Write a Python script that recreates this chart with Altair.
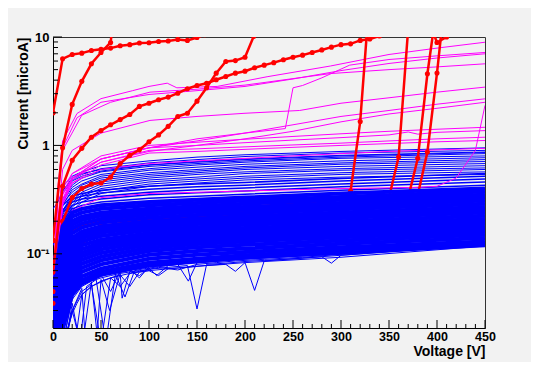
import altair as alt
import pandas as pd

W, H = 432, 291
BG = "#f2f2f2"
FONT = "Liberation Sans"

# ---------------- data ----------------
V_GRID = [0, 5, 10, 20, 30, 50, 100, 150, 200, 300, 450]

# dense blue core (thick)
BLUE_CORE = [
    [0.03, 0.09, 0.18, 0.24, 0.26, 0.28, 0.3, 0.315, 0.33, 0.36, 0.4],
    [0.05, 0.08, 0.165, 0.22, 0.24, 0.26, 0.28, 0.295, 0.31, 0.335, 0.375],
    [0.025, 0.07, 0.15, 0.2, 0.22, 0.24, 0.26, 0.275, 0.29, 0.315, 0.35],
    [0.04, 0.065, 0.135, 0.185, 0.205, 0.225, 0.245, 0.26, 0.27, 0.295, 0.33],
    [0.02, 0.06, 0.12, 0.17, 0.19, 0.21, 0.23, 0.245, 0.255, 0.275, 0.31],
    [0.03, 0.055, 0.11, 0.155, 0.175, 0.195, 0.215, 0.228, 0.238, 0.258, 0.29],
    [0.015, 0.05, 0.1, 0.14, 0.16, 0.18, 0.2, 0.212, 0.222, 0.24, 0.27],
    [0.025, 0.045, 0.09, 0.13, 0.15, 0.168, 0.188, 0.2, 0.21, 0.227, 0.255],
    [0.012, 0.04, 0.08, 0.12, 0.14, 0.157, 0.177, 0.188, 0.197, 0.214, 0.24],
    [0.02, 0.035, 0.072, 0.11, 0.13, 0.146, 0.166, 0.176, 0.185, 0.2, 0.225],
    [0.01, 0.03, 0.065, 0.1, 0.12, 0.135, 0.155, 0.165, 0.173, 0.187, 0.21],
    [0.015, 0.028, 0.058, 0.092, 0.11, 0.126, 0.146, 0.156, 0.164, 0.178, 0.2],
    [0.008, 0.025, 0.052, 0.085, 0.102, 0.118, 0.138, 0.147, 0.155, 0.169, 0.19],
    [0.012, 0.022, 0.046, 0.078, 0.095, 0.11, 0.13, 0.139, 0.147, 0.16, 0.18],
    [0.006, 0.019, 0.04, 0.071, 0.088, 0.102, 0.122, 0.131, 0.138, 0.151, 0.17],
    [0.009, 0.017, 0.035, 0.065, 0.081, 0.094, 0.114, 0.123, 0.13, 0.142, 0.16],
    [0.005, 0.014, 0.031, 0.059, 0.074, 0.087, 0.106, 0.115, 0.121, 0.133, 0.15],
    [0.007, 0.012, 0.028, 0.054, 0.068, 0.08, 0.098, 0.106, 0.112, 0.124, 0.14],
    [0.004, 0.01, 0.025, 0.049, 0.062, 0.073, 0.09, 0.098, 0.104, 0.115, 0.13],
    [0.004, 0.009, 0.022, 0.045, 0.057, 0.068, 0.083, 0.09, 0.097, 0.108, 0.125],
    [0.003, 0.008, 0.02, 0.042, 0.053, 0.064, 0.078, 0.085, 0.092, 0.103, 0.12],
]

# upper part of the core (medium)
BLUE_MID = [
    [0.12, 0.15, 0.28, 0.34, 0.36, 0.385, 0.42, 0.44, 0.455, 0.495, 0.55],
    [0.06, 0.13, 0.25, 0.32, 0.34, 0.365, 0.395, 0.415, 0.43, 0.47, 0.52],
    [0.09, 0.12, 0.24, 0.3, 0.32, 0.34, 0.37, 0.39, 0.405, 0.44, 0.49],
    [0.04, 0.11, 0.22, 0.28, 0.3, 0.32, 0.35, 0.365, 0.38, 0.415, 0.46],
    [0.07, 0.1, 0.2, 0.26, 0.28, 0.3, 0.325, 0.34, 0.355, 0.385, 0.43],
]

# sparse upper blue curves (thin)
BLUE_TOP = [
    [0.03, 0.15, 0.42, 0.52, 0.57, 0.65, 0.72, 0.78, 0.82, 0.88, 0.95],
    [0.025, 0.12, 0.38, 0.48, 0.54, 0.61, 0.69, 0.74, 0.79, 0.85, 0.9],
    [0.03, 0.14, 0.36, 0.47, 0.52, 0.58, 0.66, 0.71, 0.75, 0.81, 0.87],
    [0.02, 0.1, 0.32, 0.43, 0.5, 0.57, 0.64, 0.68, 0.72, 0.78, 0.84],
    [0.025, 0.11, 0.3, 0.41, 0.47, 0.54, 0.61, 0.66, 0.7, 0.76, 0.8],
    [0.02, 0.09, 0.28, 0.39, 0.44, 0.52, 0.59, 0.63, 0.67, 0.72, 0.77],
    [0.03, 0.13, 0.29, 0.37, 0.43, 0.5, 0.56, 0.6, 0.64, 0.69, 0.74],
    [0.02, 0.08, 0.25, 0.35, 0.41, 0.48, 0.54, 0.58, 0.62, 0.67, 0.71],
    [0.025, 0.1, 0.25, 0.33, 0.39, 0.46, 0.52, 0.56, 0.6, 0.64, 0.68],
    [0.02, 0.09, 0.23, 0.31, 0.37, 0.44, 0.5, 0.54, 0.57, 0.61, 0.65],
    [0.02, 0.08, 0.21, 0.3, 0.35, 0.42, 0.48, 0.51, 0.55, 0.59, 0.62],
    [0.015, 0.07, 0.2, 0.28, 0.34, 0.4, 0.46, 0.49, 0.52, 0.56, 0.6],
    [0.02, 0.08, 0.19, 0.27, 0.32, 0.38, 0.44, 0.47, 0.5, 0.54, 0.57],
    [0.015, 0.07, 0.18, 0.25, 0.3, 0.36, 0.42, 0.45, 0.48, 0.51, 0.54],
    [0.26, 0.3, 0.38, 0.5, 0.55, 0.6, 0.66, 0.7, 0.74, 0.8, 0.86],
]

# lower blue curves with dips (thin)
BLUE_LOW = [
    ([0, 10, 20, 30, 40, 50, 60, 70, 80, 90, 100, 120, 140, 150, 160, 180, 200, 220, 250, 280, 290, 300, 350, 400, 450],
     [0.004, 0.015, 0.038, 0.05, 0.056, 0.06, 0.063, 0.066, 0.068, 0.07, 0.072, 0.075, 0.078, 0.031, 0.08, 0.082, 0.085, 0.087, 0.09, 0.094, 0.082, 0.097, 0.104, 0.112, 0.12]),
    ([0, 10, 20, 30, 40, 50, 60, 70, 80, 90, 100, 110, 120, 140, 160, 180, 190, 200, 210, 220, 250, 300, 350, 400, 450],
     [0.003, 0.012, 0.03, 0.045, 0.052, 0.015, 0.06, 0.064, 0.05, 0.068, 0.07, 0.063, 0.073, 0.075, 0.078, 0.08, 0.069, 0.083, 0.046, 0.086, 0.09, 0.097, 0.105, 0.113, 0.122]),
    ([0, 10, 20, 28, 35, 45, 55, 65, 75, 85, 95, 110, 130, 141, 150, 170, 200, 250, 300, 350, 400, 450],
     [0.003, 0.01, 0.035, 0.015, 0.05, 0.058, 0.015, 0.065, 0.04, 0.07, 0.073, 0.076, 0.08, 0.056, 0.083, 0.086, 0.09, 0.096, 0.102, 0.11, 0.118, 0.126]),
    ([0, 10, 20, 30, 33, 40, 46, 50, 59, 70, 72, 80, 90, 100, 108, 120, 150, 200, 250, 300, 350, 400, 450],
     [0.003, 0.011, 0.03, 0.048, 0.02, 0.055, 0.018, 0.058, 0.03, 0.066, 0.039, 0.069, 0.063, 0.074, 0.063, 0.078, 0.084, 0.09, 0.095, 0.1, 0.108, 0.116, 0.124]),
    ([0, 10, 20, 30, 40, 50, 60, 70, 80, 90, 100, 120, 140, 160, 180, 200, 230, 260, 300, 350, 400, 450],
     [0.003, 0.014, 0.04, 0.055, 0.06, 0.064, 0.045, 0.07, 0.072, 0.06, 0.076, 0.079, 0.082, 0.084, 0.087, 0.09, 0.093, 0.096, 0.1, 0.107, 0.115, 0.123]),
    ([0, 10, 15, 20, 25, 30, 40, 50, 60, 70, 80, 90, 100, 110, 130, 150, 170, 190, 220, 260, 300, 350, 400, 450],
     [0.002, 0.008, 0.02, 0.03, 0.02, 0.042, 0.05, 0.055, 0.06, 0.05, 0.066, 0.069, 0.072, 0.075, 0.071, 0.08, 0.083, 0.086, 0.089, 0.093, 0.099, 0.106, 0.114, 0.122]),
    ([0, 10, 20, 30, 40, 50, 60, 70, 80, 90, 100, 120, 150, 200, 250, 300, 350, 400, 450],
     [0.004, 0.018, 0.045, 0.058, 0.064, 0.068, 0.071, 0.073, 0.075, 0.077, 0.079, 0.082, 0.086, 0.092, 0.097, 0.102, 0.109, 0.117, 0.125]),
    ([0, 5, 10, 15, 20, 25, 30, 40, 50, 60, 80, 100, 150, 200, 300, 450],
     [0.002, 0.006, 0.012, 0.02, 0.028, 0.035, 0.042, 0.05, 0.056, 0.06, 0.066, 0.07, 0.077, 0.083, 0.093, 0.118]),
]

M_GRID = [0, 10, 20, 50, 100, 150, 200, 250, 300, 350, 400, 450]
MAGENTA = [
    ([0, 5, 10, 25, 50, 83, 100, 119, 129, 171, 223, 289, 350, 400, 450],
     [0.05, 0.4, 1.1, 1.97, 2.7, 3.2, 3.5, 3.75, 3.4, 3.5, 4.3, 5.4, 6.9, 7.9, 8.95]),
    ([0, 5, 10, 25, 50, 100, 150, 200, 250, 300, 350, 400, 450],
     [0.05, 0.35, 0.95, 1.8, 2.5, 2.95, 3.2, 3.5, 4.1, 4.9, 5.7, 6.4, 7.0]),
    ([0, 5, 10, 30, 60, 101, 150, 200, 289, 350, 400, 450],
     [0.04, 0.3, 0.9, 1.9, 2.5, 3.1, 3.3, 3.6, 4.6, 5.0, 5.3, 5.66]),
    ([0, 10, 20, 50, 100, 150, 200, 242, 250, 260, 280, 309, 350, 400, 450],
     [0.03, 0.3, 0.5, 0.75, 0.95, 1.15, 1.3, 1.43, 3.4, 3.57, 4.2, 5.5, 6.2, 6.7, 7.2]),
    ([0, 5, 10, 20, 50, 101, 150, 200, 257, 300, 350, 400, 450],
     [0.03, 0.2, 0.6, 0.9, 1.3, 1.7, 1.85, 1.98, 2.1, 2.45, 2.75, 3.1, 3.45]),
    (M_GRID, [0.03, 0.4, 0.55, 0.75, 0.95, 1.1, 1.3, 1.55, 1.85, 2.1, 2.4, 2.69]),
    (M_GRID, [0.03, 0.35, 0.5, 0.7, 0.88, 1.0, 1.15, 1.35, 1.65, 1.95, 2.2, 2.5]),
    (M_GRID, [0.02, 0.35, 0.55, 0.8, 1.0, 1.07, 1.14, 1.21, 1.28, 1.35, 1.41, 1.47]),
    ([0, 10, 20, 50, 100, 150, 200, 250, 300, 350, 370, 380, 400, 450],
     [0.02, 0.32, 0.5, 0.75, 0.95, 1.0, 1.06, 1.12, 1.18, 1.25, 1.33, 1.27, 1.32, 1.37]),
    (M_GRID, [0.02, 0.3, 0.48, 0.7, 0.9, 0.93, 0.97, 1.01, 1.05, 1.1, 1.15, 1.19]),
    (M_GRID, [0.02, 0.28, 0.45, 0.66, 0.85, 0.88, 0.92, 0.96, 1.0, 1.04, 1.08, 1.11]),
    ([0, 10, 20, 50, 100, 200, 300, 380, 400, 420, 440, 450],
     [0.02, 0.15, 0.25, 0.33, 0.36, 0.38, 0.4, 0.41, 0.42, 0.5, 0.9, 2.34]),
    (M_GRID, [0.02, 0.3, 0.45, 0.6, 0.68, 0.72, 0.76, 0.8, 0.84, 0.88, 0.91, 0.94]),
]

RED = [
    ([0, 10, 20, 30, 40, 50, 60, 70, 80, 90, 100, 110, 120, 130, 140, 150, 158],
     [2.0, 6.3, 6.9, 7.1, 7.5, 7.7, 7.9, 8.3, 8.5, 8.8, 8.85, 9.1, 9.2, 9.5, 9.3, 9.9, 10.5]),
    ([0, 10, 20, 30, 40, 50, 60, 61],
     [0.133, 0.95, 2.39, 3.9, 5.66, 7.2, 8.9, 10.5]),
    ([0, 10, 20, 30, 40, 50, 60, 70, 80, 90, 100, 110, 120, 130, 140, 150, 160, 170, 180,
      190, 200, 210, 220, 230, 240, 250, 260, 270, 280, 290, 300, 310, 320, 330, 340],
     [0.068, 0.42, 0.73, 0.94, 1.19, 1.37, 1.55, 1.73, 1.93, 2.29, 2.45, 2.64, 2.79, 3.03, 3.33, 3.57, 3.75, 4.03, 4.32,
      4.64, 4.84, 5.2, 5.5, 5.8, 6.16, 6.5, 6.8, 7.2, 7.6, 8.06, 8.5, 8.65, 9.3, 9.6, 10.2]),
    ([0, 10, 20, 30, 40, 50, 60, 70, 80, 90, 100, 110, 120, 130, 140, 150, 160, 170, 180, 190, 200, 209],
     [0.045, 0.2, 0.33, 0.4, 0.44, 0.45, 0.51, 0.68, 0.81, 0.91, 1.08, 1.25, 1.5, 1.85, 1.98, 2.56, 3.4, 4.64, 5.95, 6.06, 6.5, 10.1]),
    ([0, 10, 20, 30, 50, 100, 150, 200, 250, 300, 310, 320, 330],
     [0.035, 0.11, 0.16, 0.18, 0.2, 0.23, 0.25, 0.27, 0.29, 0.32, 0.38, 1.66, 25]),
    ([0, 10, 20, 50, 100, 200, 300, 350, 360, 370],
     [0.01, 0.08, 0.13, 0.18, 0.21, 0.25, 0.29, 0.33, 0.78, 12]),
    ([0, 10, 20, 50, 100, 200, 300, 370, 380, 390, 396, 400, 410],
     [0.01, 0.07, 0.12, 0.17, 0.2, 0.24, 0.28, 0.33, 0.76, 4.58, 11, 8.9, 10]),
    ([0, 10, 20, 50, 100, 200, 300, 380, 390, 400, 405],
     [0.01, 0.06, 0.11, 0.16, 0.19, 0.23, 0.27, 0.35, 0.87, 4.65, 12]),
]

X_MAJOR = [0, 50, 100, 150, 200, 250, 300, 350, 400, 450]
X_MINOR = [v for v in range(10, 450, 10) if v % 50 != 0]
Y_MAJOR = [0.1, 1, 10]
Y_MINOR = [0.03, 0.04, 0.05, 0.06, 0.07, 0.08, 0.09,
           0.2, 0.3, 0.4, 0.5, 0.6, 0.7, 0.8, 0.9,
           2, 3, 4, 5, 6, 7, 8, 9]

# ---------------- build tables ----------------
rows = []
def add(group, lid, vs, cs):
    for v, c in zip(vs, cs):
        rows.append({"grp": group, "lid": f"{group}{lid}", "V": v, "I": c})

for i, c in enumerate(BLUE_CORE):
    add("core", i, V_GRID, c)
for i, c in enumerate(BLUE_MID):
    add("mid", i, V_GRID, c)
for i, c in enumerate(BLUE_TOP):
    add("top", i, V_GRID, c)
for i, (vs, cs) in enumerate(BLUE_LOW):
    add("low", i, vs, cs)
for i, (vs, cs) in enumerate(MAGENTA):
    add("mag", i, vs, cs)
for i, (vs, cs) in enumerate(RED):
    add("red", i, vs, cs)
df = pd.DataFrame(rows)

xs = alt.Scale(domain=[0, 450], nice=False, zero=False)
ys = alt.Scale(type="log", domain=[0.0207, 10], nice=False)

xaxis = alt.Axis(
    title="Voltage [V]", values=X_MAJOR, tickSize=0, grid=False,
    domainColor="#000000", labelFont=FONT, labelFontWeight="bold", labelFontSize=12.5,
    labelColor="#000000", labelPadding=2, labelFlush=False, labelOverlap=False,
    titleFont=FONT, titleFontWeight="bold", titleFontSize=14, titleColor="#000000",
    titleAlign="right", titleX=W, titleY=27, titleBaseline="alphabetic",
)
yaxis = alt.Axis(
    title="Current [microA]", values=Y_MAJOR, tickSize=0, grid=False,
    domainColor="#000000", labelFont=FONT, labelFontWeight="bold", labelFontSize=13,
    labelColor="#000000", labelPadding=4, labelFlush=False, labelOverlap=False,
    labelExpr="datum.value < 0.5 ? '10⁻¹' : (datum.value > 5 ? '10' : '1')",
    titleFont=FONT, titleFontWeight="bold", titleFontSize=14, titleColor="#000000",
    titleAngle=270, titleAlign="right", titleX=-26, titleY=0, titleBaseline="alphabetic",
)

X = alt.X("V:Q", scale=xs, axis=xaxis)
Y = alt.Y("I:Q", scale=ys, axis=yaxis)

base = alt.Chart(df)

def lines(group, color, width):
    return base.transform_filter(alt.datum.grp == group).mark_line(
        color=color, strokeWidth=width, clip=True
    ).encode(x=X, y=Y, detail="lid:N")

red_lines = lines("red", "#ff0000", 2.5)
red_pts = base.transform_filter(alt.datum.grp == "red").mark_circle(
    color="#ff0000", size=26, opacity=1, clip=True
).encode(x=X, y=Y)
red_start = base.transform_filter(
    (alt.datum.grp == "red") & (alt.datum.V == 0)
).mark_circle(color="#ff0000", size=26, opacity=1, clip=True).encode(x=X, y=Y)
core = lines("core", "#0000ff", 4)
mid = lines("mid", "#0000ff", 1.5)
top = lines("top", "#0000ff", 1)
low = lines("low", "#0000ff", 1)
mag = lines("mag", "#ff00ff", 1)

xt = pd.DataFrame({"V": X_MAJOR + X_MINOR,
                   "len": [8] * len(X_MAJOR) + [4] * len(X_MINOR)})
yt = pd.DataFrame({"I": Y_MAJOR + Y_MINOR,
                   "len": [9] * len(Y_MAJOR) + [5] * len(Y_MINOR)})

xticks_major = alt.Chart(xt[xt.len == 8]).mark_rule(color="#000000", strokeWidth=1).encode(
    x=X, y=alt.value(H), y2=alt.value(H - 8))
xticks_minor = alt.Chart(xt[xt.len == 4]).mark_rule(color="#000000", strokeWidth=1).encode(
    x=X, y=alt.value(H), y2=alt.value(H - 4))
yticks_major = alt.Chart(yt[yt.len == 9]).mark_rule(color="#000000", strokeWidth=1).encode(
    y=Y, x=alt.value(0), x2=alt.value(9))
yticks_minor = alt.Chart(yt[yt.len == 5]).mark_rule(color="#000000", strokeWidth=1).encode(
    y=Y, x=alt.value(0), x2=alt.value(5))

chart = alt.layer(
    top, mid, low, mag, red_lines, red_pts, core, red_start,
    xticks_major, xticks_minor, yticks_major, yticks_minor,
).properties(
    width=W, height=H,
    background=BG,
    autosize=alt.AutoSizeParams(type="none"),
    padding={"left": 45, "top": 29, "right": 46, "bottom": 34},
).configure_view(
    stroke="#333333", strokeWidth=1, fill=BG,
)

chart.save("out.html", embed_options={"renderer": "svg", "actions": False})
